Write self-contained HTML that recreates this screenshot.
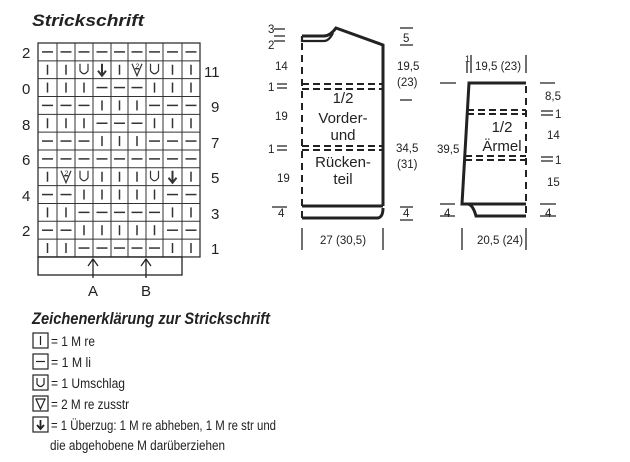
<!DOCTYPE html>
<html><head><meta charset="utf-8"><style>
html,body{margin:0;padding:0;background:#fff}
svg{display:block}
.t{font-family:"Liberation Sans",sans-serif;fill:#222}
.c{font-family:"Liberation Sans Narrow","Liberation Sans",sans-serif;fill:#222}
</style></head><body>
<svg id="s" width="630" height="462" viewBox="0 0 630 462" xmlns="http://www.w3.org/2000/svg">
<text x="32" y="26" class="c" font-size="17" font-weight="bold" font-style="italic" textLength="112" lengthAdjust="spacingAndGlyphs">Strickschrift</text>
<g id="grid" stroke="#333" fill="none"></g>
<g class="t" font-size="15">
<text x="22" y="58">2</text><text x="22" y="94">0</text><text x="22" y="130">8</text><text x="22" y="165">6</text><text x="22" y="201">4</text><text x="22" y="236">2</text>
<text x="204" y="77">11</text><text x="211" y="112">9</text><text x="211" y="148">7</text><text x="211" y="183">5</text><text x="211" y="219">3</text><text x="211" y="254">1</text>
<text x="88" y="296">A</text><text x="141" y="296">B</text>
</g>
<g stroke="#222" stroke-width="1.3" fill="none">
<rect x="38" y="257" width="144" height="18"/>
<path d="M93 278V260M88 266L93 259L98 266M146 278V260M141 266L146 259L151 266"/>
</g>

<!-- body piece -->
<g stroke="#222" fill="none">
<path d="M302 36H324Q330 36 336 28L383 45V206" stroke-width="3"/>
<path d="M302 36V41H324Q329 41 333 33" stroke-width="2.2"/>
<path d="M302 206H383M383 208Q383 217 378 218H302" stroke-width="3"/>
<path d="M302 43V220" stroke-width="2" stroke-dasharray="7,5"/>
<path d="M302 84H383M302 89H383M302 146H383M302 150H383" stroke-width="2" stroke-dasharray="7,4"/>
<path d="M302 228V250M383 228V250" stroke-width="1.3"/>
<path d="M274 29H285M274 36H285M274 41H285M277 84H287M277 88H287M277 146H287M277 150H287M272 207H287M400 28H413M400 45H413M400 100H412M400 207H413M400 220H413" stroke-width="1.2"/>
</g>
<g class="t" font-size="11.5">
<text x="268" y="33">3</text><text x="268" y="49">2</text>
<text x="275" y="70">14</text><text x="268" y="91">1</text>
<text x="275" y="120">19</text><text x="268" y="153">1</text>
<text x="277" y="182">19</text><text x="278" y="217">4</text>
<text x="403" y="42">5</text>
<text x="397" y="70">19,5</text><text x="397" y="86">(23)</text>
<text x="396" y="152">34,5</text><text x="397" y="168">(31)</text>
<text x="403" y="217">4</text>
<text x="320" y="244">27 (30,5)</text>
</g>
<g class="t" font-size="15" text-anchor="middle">
<text x="343" y="103">1/2</text><text x="343" y="123">Vorder-</text><text x="343" y="140">und</text>
<text x="343" y="167">Rücken-</text><text x="343" y="184">teil</text>
</g>

<!-- sleeve -->
<g stroke="#222" fill="none">
<path d="M526 83H469L462 204H526M468 204Q473 205 476 216H526" stroke-width="3"/>
<path d="M526 86V218" stroke-width="2" stroke-dasharray="7,5"/>
<path d="M467 110H526M467 114H526M465 156H526M465 160H526" stroke-width="2" stroke-dasharray="7,4"/>
<path d="M462 228V250M526 228V250M471 55V73M526 55V73M467 62V73" stroke-width="1.3"/>
<path d="M440 83H456M540 83H555M541 111H553M541 115H553M541 157H553M541 161H553M440 204H455M440 216H455M540 204H556M540 216H556" stroke-width="1.2"/>
</g>
<g class="t" font-size="11.5">
<text x="465" y="62" font-size="9">1</text>
<text x="475" y="70">19,5 (23)</text>
<text x="545" y="100">8,5</text><text x="555" y="118">1</text>
<text x="547" y="139">14</text><text x="555" y="164">1</text>
<text x="547" y="186">15</text>
<text x="437" y="153">39,5</text>
<text x="444" y="217">4</text><text x="545" y="217">4</text>
<text x="477" y="244">20,5 (24)</text>
</g>
<g class="t" font-size="15" text-anchor="middle">
<text x="502" y="132">1/2</text><text x="502" y="151">Ärmel</text>
</g>

<!-- legend -->
<text x="32" y="324" class="c" font-size="17" font-weight="bold" font-style="italic" textLength="238" lengthAdjust="spacingAndGlyphs">Zeichenerklärung zur Strickschrift</text>
<g stroke="#222" fill="none" stroke-width="1.2">
<rect x="33" y="333" width="15" height="15"/><path d="M40.5 336V345"/>
<rect x="33" y="354" width="15" height="15"/><path d="M36 361.5H45"/>
<rect x="33" y="375" width="15" height="15"/><path d="M37 378V384Q40.5 389 44 384V378"/>
<rect x="33" y="396" width="15" height="15"/><path d="M36 399L40.5 409L45 399ZM38 399H43"/>
<rect x="33" y="417" width="15" height="15"/><path d="M40.5 420V429M37 425L40.5 429L44 425" stroke-width="1.8"/>
</g>
<g class="c" font-size="13.5">
<text x="51" y="346" textLength="44" lengthAdjust="spacingAndGlyphs">= 1 M re</text>
<text x="51" y="367" textLength="40" lengthAdjust="spacingAndGlyphs">= 1 M li</text>
<text x="51" y="388" textLength="74" lengthAdjust="spacingAndGlyphs">= 1 Umschlag</text>
<text x="51" y="409" textLength="78" lengthAdjust="spacingAndGlyphs">= 2 M re zusstr</text>
<text x="51" y="430" textLength="225" lengthAdjust="spacingAndGlyphs">= 1 Überzug: 1 M re abheben, 1 M re str und</text>
<text x="50" y="450" textLength="175" lengthAdjust="spacingAndGlyphs">die abgehobene M darüberziehen</text>
</g>
</svg>
<script>
(function(){
var xs=[38,57,75,93,111,128,146,163,182,200],y0=43,h=17.83;
var rows=["---------","||UA|VU||","|||---|||","---|||---","|||---|||","---|||---","---------","|VU|||UA|","--|||||--","||-----||","--|||||--","||-----||"];
var g=document.getElementById('grid'),s='';
s+='<rect x="38" y="43" width="162" height="'+(12*h)+'" stroke-width="1.3"/>';
for(var i=1;i<9;i++)s+='<path d="M'+xs[i]+' 43V257" stroke-width="1"/>';
for(var r=1;r<12;r++)s+='<path d="M38 '+(y0+r*h)+'H200" stroke-width="1"/>';
for(r=0;r<12;r++)for(var c=0;c<9;c++){
var cx=(xs[c]+xs[c+1])/2,cy=y0+r*h+h/2,ch=rows[r][c];
if(ch=='|')s+='<path d="M'+cx+' '+(cy-5)+'V'+(cy+5)+'" stroke-width="1.5"/>';
else if(ch=='-')s+='<path d="M'+(cx-5.5)+' '+cy+'H'+(cx+5.5)+'" stroke-width="1.5"/>';
else if(ch=='U')s+='<path d="M'+(cx-4)+' '+(cy-6)+'V'+(cy+1)+'Q'+cx+' '+(cy+7)+' '+(cx+4)+' '+(cy+1)+'V'+(cy-6)+'" stroke-width="1.2"/>';
else if(ch=='A')s+='<path d="M'+cx+' '+(cy-6)+'V'+(cy+5)+'M'+(cx-4)+' '+(cy+1)+'L'+cx+' '+(cy+6)+'L'+(cx+4)+' '+(cy+1)+'" stroke-width="2"/>';
else if(ch=='V')s+='<path d="M'+(cx-5)+' '+(cy-6)+'L'+cx+' '+(cy+6)+'L'+(cx+5)+' '+(cy-6)+'M'+(cx-2)+' '+(cy-1)+'H'+(cx+2)+'" stroke-width="1.2"/><text x="'+(cx-1.5)+'" y="'+(cy-1)+'" font-size="7" fill="#333" stroke="none" font-family="Liberation Sans">2</text>';
}
g.innerHTML=s;
})();
</script>
</body></html>
